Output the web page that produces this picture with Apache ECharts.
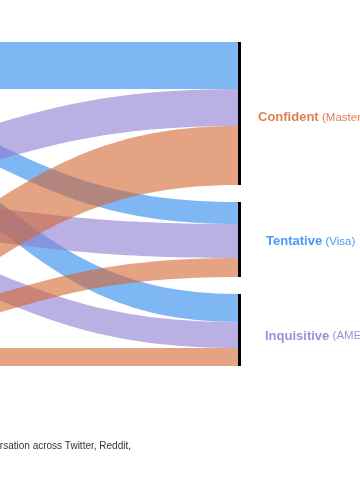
<!DOCTYPE html>
<html>
<head>
<meta charset="utf-8">
<script src="https://cdn.jsdelivr.net/npm/echarts@6/dist/echarts.min.js"></script>
<style>
html,body{margin:0;padding:0;background:#fff;}
#c{width:360px;height:500px;}
</style>
</head>
<body>
<div id="c"></div>
<script>
// Source groups (drawn off the left edge in the reference crop)
const sourceGroups = ['Group A', 'Group B', 'Group C'];
const sourceColors = ['#2a87ee', '#8e7bd2', '#d2662f'];
// Target personas and their card brands
const personas = ['Confident', 'Tentative', 'Inquisitive'];
const brands = ['Mastercard', 'Visa', 'AMEX'];
const personaColors = ['#e27f52', '#4d98f2', '#a48edb'];
// Flow values: rows = source group, columns = persona
const flowGroupA = [47, 22, 28];
const flowGroupB = [37, 34, 26];
const flowGroupC = [59, 19, 18];
const flows = [flowGroupA, flowGroupB, flowGroupC];
const footnote = 'Based on conversation across Twitter, Reddit,';

const labelDist = [17, 25, 24];
const labelDy = [4, 2, 6];

const nodes = [];
sourceGroups.forEach((n, i) => {
  nodes.push({ name: n, itemStyle: { color: sourceColors[i] }, label: { show: false } });
});
personas.forEach((p, i) => {
  nodes.push({
    name: p,
    itemStyle: { color: '#000' },
    label: {
      show: true,
      position: 'right',
      distance: labelDist[i],
      offset: [0, labelDy[i]],
      formatter: '{m|' + p + '} {s|(' + brands[i] + ')}',
      rich: {
        m: { fontFamily: 'Liberation Sans', fontWeight: 'bold', fontSize: 13, color: personaColors[i] },
        s: { fontFamily: 'Liberation Sans', fontSize: 11.5, color: personaColors[i] }
      }
    }
  });
});
const links = [];
sourceGroups.forEach((s, i) => {
  personas.forEach((p, j) => {
    links.push({ source: s, target: p, value: flows[i][j] });
  });
});

const chart = echarts.init(document.getElementById('c'), null, { renderer: 'canvas' });
chart.setOption({
  animation: false,
  backgroundColor: '#ffffff',
  series: [{
    type: 'sankey',
    left: -241,
    right: 119,
    top: 42,
    bottom: 134,
    nodeWidth: 3,
    nodeGap: 17,
    layoutIterations: 0,
    draggable: false,
    emphasis: { disabled: true },
    data: nodes,
    links: links,
    lineStyle: { color: 'source', opacity: 0.6, curveness: 0.5 },
    itemStyle: { borderWidth: 0 }
  }],
  graphic: [{
    type: 'text',
    left: null,
    style: {
      x: 131, y: 446,
      text: footnote,
      align: 'right',
      verticalAlign: 'middle',
      fontFamily: 'Liberation Sans',
      fontSize: 10,
      fill: '#333'
    }
  }]
});
</script>
</body>
</html>
